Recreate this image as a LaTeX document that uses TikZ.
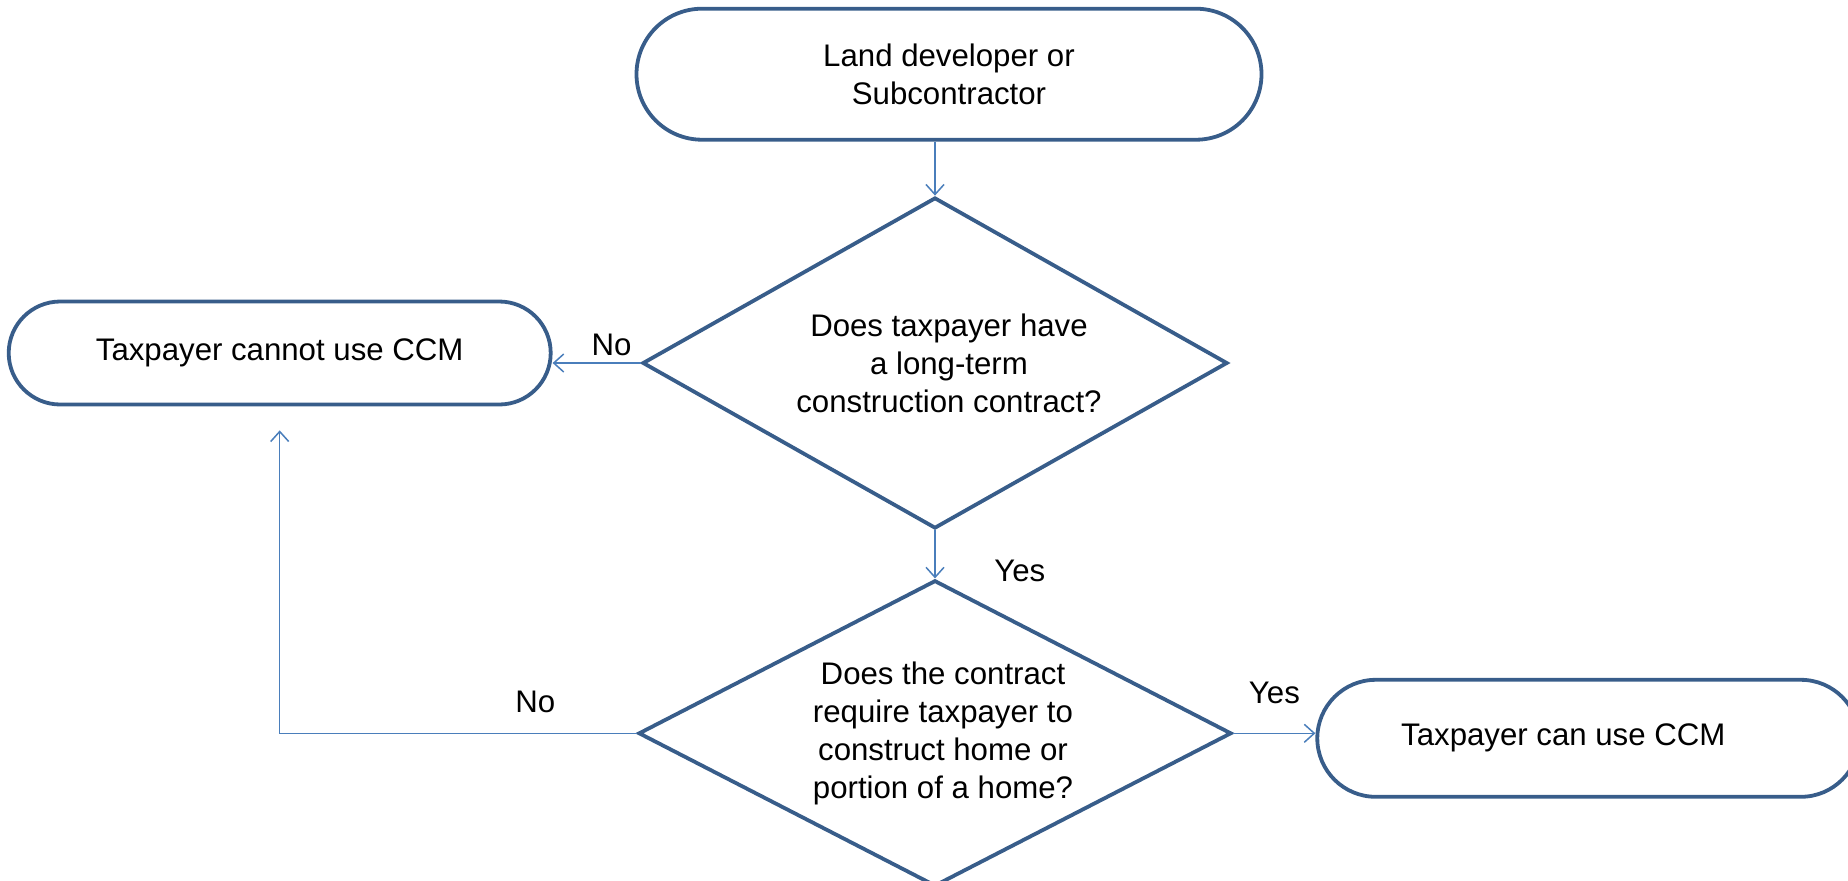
\documentclass[tikz,border=0pt]{standalone}
\usepackage{fontspec}
\setmainfont{Liberation Sans}
\usetikzlibrary{positioning, arrows.meta, shapes.geometric, shapes.misc}

\definecolor{frameblue}{HTML}{385D8A}
\definecolor{lineblue}{HTML}{4A7EBB}

\begin{document}
\begin{tikzpicture}[x=0.5pt, y=-0.5pt,
        font=\fontsize{15.6}{19}\selectfont,
        term/.style={draw=frameblue, rounded rectangle, line width=1.9pt, align=center, inner sep=0pt},
        decision/.style={draw=frameblue, diamond, shape aspect=1.8, line width=1.9pt,
        align=center, inner sep=0pt},
      flow/.style={->, >={Straight Barb[length=5pt, width=9pt]}, draw=lineblue, line width=0.75pt}]
      \useasboundingbox (0,0) rectangle (1848,880);

      \node[decision, minimum width=292.5pt, minimum height=165.5pt] (dec1) at (935,363)
        {\hspace*{14pt}Does taxpayer have\\\hspace*{14pt}a long-term\\\hspace*{14pt}construction contract?};
      \node[term, minimum width=312.5pt, minimum height=65.5pt, above=27pt of dec1, xshift=7pt] (land)
        {Land developer or\\Subcontractor};
      \node[term, minimum width=271pt, minimum height=51.5pt, left=44pt of dec1, yshift=5pt] (cannot)
        {Taxpayer cannot use CCM};
      \node[decision, minimum width=296.5pt, minimum height=153pt, below=24pt of dec1] (dec2)
        {\hspace*{8pt}Does the contract\\\hspace*{8pt}require taxpayer to\\\hspace*{8pt}construct home or\\\hspace*{8pt}portion of a home?};
      \node[term, minimum width=271pt, minimum height=58.5pt, right=41pt of dec2, yshift=-2.5pt] (can)
        {Taxpayer can use CCM\hspace*{25pt}};

      \draw[flow] (land.south -| dec1.north) -- (dec1.north);
      \draw[flow] (dec1.west) -- node[above, pos=0.33] {No} (dec1.west -| cannot.east);
      \draw[flow] (dec1.south) -- node[pos=0.85, anchor=west, xshift=26pt] {Yes} (dec2.north);
      \draw[flow] (dec2.east) -- node[above=11pt] {Yes} (dec2.east -| can.west);
      \draw[flow] (dec2.west) -| node[above=6.5pt, pos=0.142] {No} ([yshift=-12pt]cannot.south);
    \end{tikzpicture}
\end{document}
